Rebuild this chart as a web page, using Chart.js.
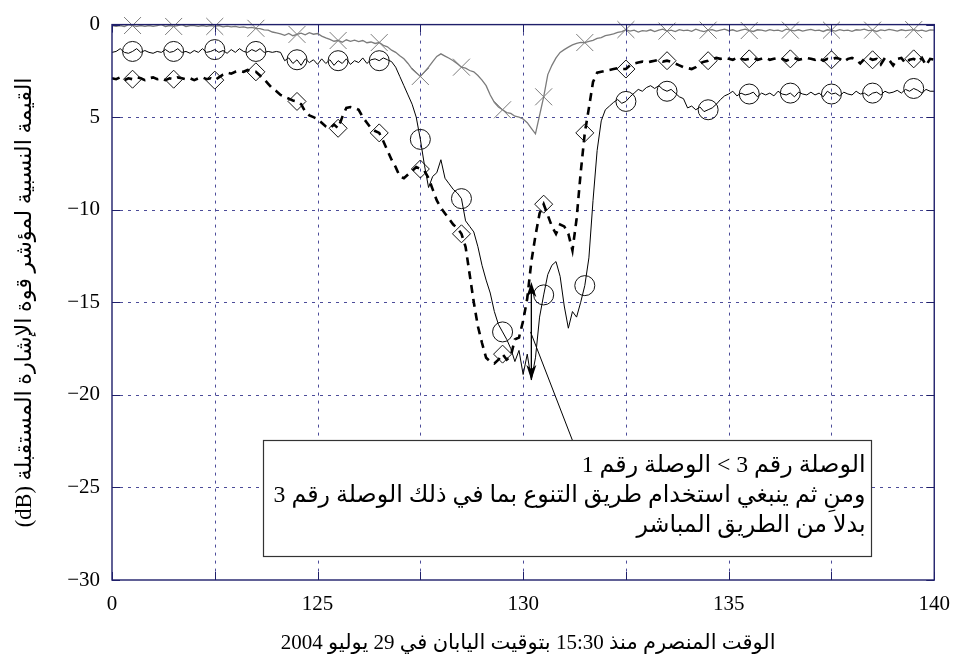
<!DOCTYPE html>
<html><head><meta charset="utf-8">
<script src="https://cdn.jsdelivr.net/npm/chart.js@4/dist/chart.umd.min.js"></script>
<style>html,body{margin:0;padding:0;background:#fff}#wrap{width:962px;height:662px;position:relative}</style>
</head><body><div id="wrap"><canvas id="c" width="962" height="662"></canvas></div>
<script>
// time (minutes) samples
const times = [
120,120.1,120.2,120.3,120.4,120.5,120.6,120.7,120.8,120.9,
121,121.1,121.2,121.3,121.4,121.5,121.6,121.7,121.8,121.9,
122,122.1,122.2,122.3,122.4,122.5,122.6,122.7,122.8,122.9,
123,123.1,123.2,123.3,123.4,123.5,123.6,123.7,123.8,123.9,
124,124.1,124.2,124.3,124.4,124.5,124.6,124.7,124.8,124.9,
125,125.1,125.2,125.3,125.4,125.5,125.6,125.7,125.8,125.9,
126,126.1,126.2,126.3,126.4,126.5,126.6,126.7,126.8,126.9,
127,127.1,127.2,127.3,127.4,127.5,127.6,127.7,127.8,127.9,
128,128.1,128.2,128.3,128.4,128.5,128.6,128.7,128.8,128.9,
129,129.1,129.2,129.3,129.4,129.5,129.6,129.7,129.8,129.9,
130,130.1,130.2,130.3,130.4,130.5,130.6,130.7,130.8,130.9,
131,131.1,131.2,131.3,131.4,131.5,131.6,131.7,131.8,131.9,
132,132.1,132.2,132.3,132.4,132.5,132.6,132.7,132.8,132.9,
133,133.1,133.2,133.3,133.4,133.5,133.6,133.7,133.8,133.9,
134,134.1,134.2,134.3,134.4,134.5,134.6,134.7,134.8,134.9,
135,135.1,135.2,135.3,135.4,135.5,135.6,135.7,135.8,135.9,
136,136.1,136.2,136.3,136.4,136.5,136.6,136.7,136.8,136.9,
137,137.1,137.2,137.3,137.4,137.5,137.6,137.7,137.8,137.9,
138,138.1,138.2,138.3,138.4,138.5,138.6,138.7,138.8,138.9,
139,139.1,139.2,139.3,139.4,139.5,139.6,139.7,139.8,139.9,
140];

// gray line with x markers
const link1 = [
-0.05,-0.1,-0.05,-0.1,0,-0.05,-0.1,-0.05,-0.1,-0.05,
-0.1,-0.05,0,-0.1,-0.05,-0.1,-0.05,0,-0.1,-0.05,
-0.05,-0.1,-0.05,-0.1,-0.05,-0.1,-0.05,-0.12,-0.08,-0.12,
-0.1,-0.15,-0.12,-0.18,-0.15,-0.2,-0.22,-0.28,-0.3,-0.4,
-0.45,-0.5,-0.58,-0.48,-0.6,-0.53,-0.46,-0.55,-0.44,-0.52,
-0.48,-0.62,-0.72,-0.8,-0.9,-0.86,-0.95,-0.82,-0.9,-0.84,
-0.92,-0.86,-0.98,-0.94,-1.02,-0.97,-1.12,-1.2,-1.38,-1.5,
-1.68,-1.85,-2.1,-2.4,-2.6,-2.8,-2.55,-2.3,-2.0,-1.72,
-1.58,-1.7,-1.82,-1.95,-2.12,-2.3,-2.35,-2.48,-2.55,-2.75,
-3.0,-3.3,-3.8,-4.2,-4.45,-4.6,-4.75,-4.8,-4.95,-5.0,
-5.1,-5.3,-5.6,-5.9,-4.9,-3.9,-2.7,-2.2,-1.8,-1.5,
-1.35,-1.22,-1.1,-1.02,-0.96,-0.97,-0.9,-0.85,-0.74,-0.7,
-0.6,-0.55,-0.5,-0.42,-0.38,-0.27,-0.35,-0.3,-0.4,-0.33,
-0.35,-0.28,-0.38,-0.3,-0.25,-0.35,-0.3,-0.38,-0.27,-0.33,
-0.3,-0.36,-0.25,-0.32,-0.38,-0.3,-0.27,-0.35,-0.3,-0.25,
-0.33,-0.28,-0.36,-0.3,-0.25,-0.32,-0.37,-0.28,-0.3,-0.35,
-0.27,-0.32,-0.3,-0.36,-0.25,-0.3,-0.34,-0.28,-0.35,-0.3,
-0.26,-0.33,-0.3,-0.37,-0.28,-0.3,-0.35,-0.27,-0.32,-0.3,
-0.36,-0.28,-0.3,-0.25,-0.33,-0.3,-0.37,-0.29,-0.32,-0.26,
-0.3,-0.35,-0.28,-0.33,-0.3,-0.27,-0.34,-0.3,-0.36,-0.29,
-0.3];

// solid black line with circle markers
const link2 = [
-1.5,-1.45,-1.3,-1.5,-1.55,-1.45,-1.3,-1.5,-1.4,-1.5,
-1.55,-1.45,-1.5,-1.35,-1.5,-1.45,-1.3,-1.5,-1.45,-1.55,
-1.4,-1.5,-1.3,-1.5,-1.45,-1.35,-1.5,-1.4,-1.55,-1.35,
-1.5,-1.3,-1.45,-1.5,-1.35,-1.45,-1.3,-1.5,-1.45,-1.5,
-1.45,-1.5,-1.95,-1.8,-2.1,-1.9,-2.2,-1.85,-2.05,-1.9,
-2.15,-1.85,-2.1,-1.9,-2.2,-1.95,-2.1,-1.85,-2.15,-1.95,
-2.05,-1.8,-2.1,-1.9,-1.85,-1.95,-1.8,-1.9,-2.0,-2.3,
-2.8,-3.3,-3.8,-4.3,-5.0,-6.2,-7.6,-8.8,-8.2,-8.0,
-7.3,-8.3,-8.6,-8.9,-9.1,-9.4,-10.6,-10.9,-11.2,-12.0,
-13.0,-13.8,-14.5,-15.5,-16.2,-16.6,-17.0,-17.5,-18.2,-17.6,
-18.9,-17.8,-19.2,-18.0,-15.8,-14.6,-13.5,-13.0,-12.8,-13.6,
-15.2,-16.4,-15.5,-15.8,-15.0,-14.1,-12.6,-9.5,-6.8,-5.2,
-4.6,-4.4,-4.2,-4.05,-4.25,-4.15,-3.9,-3.7,-3.5,-3.6,
-3.4,-3.3,-3.45,-3.3,-3.5,-3.6,-3.5,-3.7,-3.9,-4.0,
-4.5,-4.4,-4.6,-4.45,-4.7,-4.6,-4.5,-4.3,-4.05,-3.85,
-3.75,-3.6,-3.85,-3.7,-3.8,-3.75,-3.65,-3.9,-3.7,-3.8,
-3.7,-3.85,-3.6,-3.75,-3.8,-3.7,-3.9,-3.65,-3.75,-3.8,
-3.65,-3.8,-3.7,-3.9,-3.6,-3.75,-3.7,-3.85,-3.65,-3.75,
-3.8,-3.6,-3.75,-3.7,-3.85,-3.7,-3.65,-3.8,-3.6,-3.7,
-3.65,-3.55,-3.7,-3.5,-3.6,-3.45,-3.55,-3.7,-3.5,-3.6,
-3.6];

// dashed black line with diamond markers
const link3 = [
-2.9,-2.95,-2.85,-3.0,-2.9,-2.95,-2.85,-2.9,-3.0,-2.9,
-2.85,-2.95,-2.9,-3.0,-2.9,-2.95,-2.85,-2.9,-2.95,-2.9,
-3.0,-2.9,-2.85,-2.95,-2.9,-3.0,-2.85,-2.7,-2.6,-2.65,
-2.55,-2.5,-2.55,-2.45,-2.55,-2.55,-2.75,-2.95,-3.2,-3.45,
-3.6,-3.8,-3.9,-4.0,-4.1,-4.15,-4.3,-4.7,-4.9,-5.0,
-5.1,-5.3,-5.5,-5.6,-5.4,-5.6,-5.0,-4.5,-4.45,-4.5,
-4.6,-5.0,-5.3,-5.6,-5.75,-5.85,-6.3,-6.8,-7.3,-7.7,
-8.2,-8.3,-8.1,-7.9,-7.7,-7.8,-7.9,-8.3,-8.9,-9.5,
-9.9,-10.2,-10.5,-10.8,-11.0,-11.3,-12.0,-13.5,-15.0,-16.3,
-17.2,-18.0,-18.2,-18.3,-18.1,-17.8,-18.1,-17.9,-17.0,-16.9,
-16.0,-14.8,-12.8,-11.4,-10.2,-9.7,-10.3,-10.9,-11.3,-10.8,
-10.9,-11.3,-12.2,-10.5,-8.0,-5.85,-4.5,-3.1,-2.6,-2.55,
-2.5,-2.45,-2.4,-2.35,-2.4,-2.4,-2.2,-2.1,-2.05,-2.0,
-2.05,-2.0,-1.95,-1.9,-2.0,-1.95,-2.0,-2.1,-2.2,-2.3,
-2.35,-2.4,-2.3,-2.1,-2.0,-1.95,-1.85,-1.8,-1.85,-1.8,
-1.85,-1.9,-1.8,-1.85,-1.9,-1.85,-1.8,-1.9,-1.85,-1.8,
-1.9,-1.85,-1.8,-1.85,-1.95,-1.85,-1.8,-1.9,-1.85,-1.8,
-1.85,-1.9,-1.8,-1.95,-1.85,-1.9,-1.8,-1.85,-2.0,-1.85,
-1.8,-1.9,-2.1,-1.85,-1.8,-1.9,-1.85,-2.15,-1.8,-1.9,
-2.2,-1.85,-1.8,-2.1,-1.9,-1.85,-2.0,-1.8,-2.2,-1.85,
-1.9];

const xTickLabels = {120:'0',125:'125',130:'130',135:'135',140:'140'};
const yTickLabels = {'0':'0','-5':'5','-10':'\u221210','-15':'\u221215','-20':'\u221220','-25':'\u221225','-30':'\u221230'};
const xTitle = 'الوقت المنصرم منذ 15:30 بتوقيت اليابان في 29 يوليو 2004';
const yTitle = 'القيمة النسبية لمؤشر قوة الإشارة المستقبلة (dB)';
const noteLines = [
  'الوصلة رقم 3 > الوصلة رقم 1',
  'ومنِ ثم ينبغي استخدام طريق التنوع بما في ذلك الوصلة رقم 3',
  'بدلا من الطريق المباشر'
];
// annotation geometry in data units
const noteBox = {x0:123.68, x1:138.47, y0:-22.46, y1:-28.68};
const arrow = {x:130.2, yTop:-13.9, yBottom:-19.2};
const pointer = {x0:130.18, y0:-16.6, x1:131.2, y1:-22.46};

const SERIF = "'Liberation Serif','Times New Roman','DejaVu Serif',serif";
const AR = "'Liberation Serif','DejaVu Sans','Noto Sans',serif";
const frameColor = '#1f1f6a';
const gridColor = 'rgba(45,45,135,0.85)';

function pts(arr){ return times.map((t,i)=>({x:t,y:arr[i]})); }
const markerR = r => ctx => (ctx.index % 10 === 5 ? r : 0);

function fitFont(ctx, text, target, base){
  ctx.font = base + 'px ' + AR;
  const w = ctx.measureText(text).width;
  let s = base * target / w;
  return Math.max(14, Math.min(26, s));
}

const decor = {
  id:'decor',
  beforeDatasetsDraw(chart){
    const {ctx, chartArea:a, scales:{x,y}} = chart;
    ctx.save();
    ctx.lineWidth = 1; ctx.strokeStyle = gridColor; ctx.setLineDash([3,5]);
    x.ticks.forEach(t=>{
      const px = Math.round(x.getPixelForValue(t.value)) + 0.5;
      if (px <= a.left+2 || px >= a.right-2) return;
      ctx.beginPath(); ctx.moveTo(px,a.top); ctx.lineTo(px,a.bottom); ctx.stroke();
    });
    y.ticks.forEach(t=>{
      const py = Math.round(y.getPixelForValue(t.value)) + 0.5;
      if (py <= a.top+2 || py >= a.bottom-2) return;
      ctx.beginPath(); ctx.moveTo(a.left,py); ctx.lineTo(a.right,py); ctx.stroke();
    });
    ctx.restore();
  },
  afterDatasetsDraw(chart){
    const {ctx, chartArea:a, scales:{x,y}} = chart;
    ctx.save();
    // frame
    ctx.setLineDash([]);
    ctx.strokeStyle = frameColor; ctx.lineWidth = 1.4;
    ctx.strokeRect(a.left, a.top, a.right-a.left, a.bottom-a.top);
    // inner ticks
    ctx.lineWidth = 1;
    x.ticks.forEach(t=>{
      const px = Math.round(x.getPixelForValue(t.value)) + 0.5;
      ctx.beginPath(); ctx.moveTo(px,a.bottom); ctx.lineTo(px,a.bottom-8);
      ctx.moveTo(px,a.top); ctx.lineTo(px,a.top+8); ctx.stroke();
    });
    y.ticks.forEach(t=>{
      const py = Math.round(y.getPixelForValue(t.value)) + 0.5;
      ctx.beginPath(); ctx.moveTo(a.left,py); ctx.lineTo(a.left+8,py);
      ctx.moveTo(a.right,py); ctx.lineTo(a.right-8,py); ctx.stroke();
    });
    // double arrow
    const ax = x.getPixelForValue(arrow.x);
    const at = y.getPixelForValue(arrow.yTop), ab = y.getPixelForValue(arrow.yBottom);
    ctx.strokeStyle = '#000'; ctx.fillStyle = '#000'; ctx.lineWidth = 1.3;
    ctx.beginPath(); ctx.moveTo(ax, at+4); ctx.lineTo(ax, ab-4); ctx.stroke();
    ctx.beginPath(); ctx.moveTo(ax, at); ctx.lineTo(ax-5, at+15); ctx.lineTo(ax, at+11); ctx.lineTo(ax+5, at+15); ctx.closePath(); ctx.fill();
    ctx.beginPath(); ctx.moveTo(ax, ab); ctx.lineTo(ax-5, ab-15); ctx.lineTo(ax, ab-11); ctx.lineTo(ax+5, ab-15); ctx.closePath(); ctx.fill();
    // pointer line
    ctx.lineWidth = 1;
    ctx.beginPath();
    ctx.moveTo(x.getPixelForValue(pointer.x0), y.getPixelForValue(pointer.y0));
    ctx.lineTo(x.getPixelForValue(pointer.x1), y.getPixelForValue(pointer.y1));
    ctx.stroke();
    // note box
    const bx0 = Math.round(x.getPixelForValue(noteBox.x0))+0.5, bx1 = Math.round(x.getPixelForValue(noteBox.x1))+0.5;
    const by0 = Math.round(y.getPixelForValue(noteBox.y0))+0.5, by1 = Math.round(y.getPixelForValue(noteBox.y1))+0.5;
    ctx.fillStyle = '#fff'; ctx.fillRect(bx0, by0, bx1-bx0, by1-by0);
    ctx.strokeStyle = '#333'; ctx.lineWidth = 1.2; ctx.strokeRect(bx0, by0, bx1-bx0, by1-by0);
    const fs = fitFont(ctx, noteLines[1], (bx1-bx0)-16, 20);
    ctx.font = fs + 'px ' + AR;
    ctx.fillStyle = '#000'; ctx.direction = 'rtl'; ctx.textAlign = 'right'; ctx.textBaseline = 'middle';
    const lh = (by1-by0)/4;
    noteLines.forEach((s,i)=> ctx.fillText(s, bx1-6, by0 + lh*(i+1) - 4 + i*1));
    ctx.restore();
  },
  afterDraw(chart){
    const {ctx, chartArea:a} = chart;
    ctx.save();
    ctx.fillStyle = '#000'; ctx.direction = 'rtl'; ctx.textAlign = 'center'; ctx.textBaseline = 'middle';
    // x title
    let fs = fitFont(ctx, xTitle, 495, 20);
    ctx.font = fs + 'px ' + AR;
    ctx.fillText(xTitle, (a.left+a.right)/2 + 5, 643);
    // y title
    fs = fitFont(ctx, yTitle, 450, 20);
    ctx.font = fs + 'px ' + AR;
    ctx.translate(25, (a.top+a.bottom)/2);
    ctx.rotate(-Math.PI/2);
    ctx.fillText(yTitle, 0, 0);
    ctx.restore();
  }
};

new Chart(document.getElementById('c'), {
  type:'line',
  data:{ datasets:[
    { label:'link1', data:pts(link1), borderColor:'#7b7b7b', borderWidth:1.3, tension:0, fill:false, clip:false,
      pointStyle:'crossRot', pointRadius:markerR(12), pointBorderColor:'#7b7b7b', pointBorderWidth:1, pointBackgroundColor:'rgba(0,0,0,0)', pointHoverRadius:0 },
    { label:'link2', data:pts(link2), borderColor:'#000', borderWidth:1, tension:0, fill:false, clip:false,
      pointStyle:'circle', pointRadius:markerR(10), pointBorderColor:'#111', pointBorderWidth:1, pointBackgroundColor:'rgba(0,0,0,0)', pointHoverRadius:0 },
    { label:'link3', data:pts(link3), borderColor:'#000', borderWidth:2.6, borderDash:[8,6], tension:0, fill:false, clip:false,
      pointStyle:'rectRot', pointRadius:markerR(9), pointBorderColor:'#111', pointBorderWidth:1, pointBackgroundColor:'rgba(0,0,0,0)', pointHoverRadius:0 }
  ]},
  options:{
    responsive:false, animation:false, devicePixelRatio:1,
    layout:{ padding:{ top:15, right:19, left:0, bottom:0 } },
    plugins:{ legend:{display:false}, tooltip:{enabled:false} },
    events:[],
    scales:{
      x:{ type:'linear', min:120, max:140,
        afterFit(s){ s.height = 82; },
        grid:{ display:false, drawTicks:false }, border:{ display:false },
        ticks:{ stepSize:2.5, autoSkip:false, maxRotation:0, padding:12, color:'#000',
          font:{ family:SERIF, size:21 },
          callback:v=> xTickLabels[v] !== undefined ? xTickLabels[v] : '' } },
      y:{ type:'linear', min:-30, max:0,
        afterFit(s){ s.width = 112; },
        grid:{ display:false, drawTicks:false }, border:{ display:false },
        ticks:{ stepSize:5, autoSkip:false, padding:12, color:'#000',
          font:{ family:SERIF, size:21 },
          callback:v=> yTickLabels[String(v)] !== undefined ? yTickLabels[String(v)] : '' } }
    }
  },
  plugins:[decor]
});
</script>
</body></html>
